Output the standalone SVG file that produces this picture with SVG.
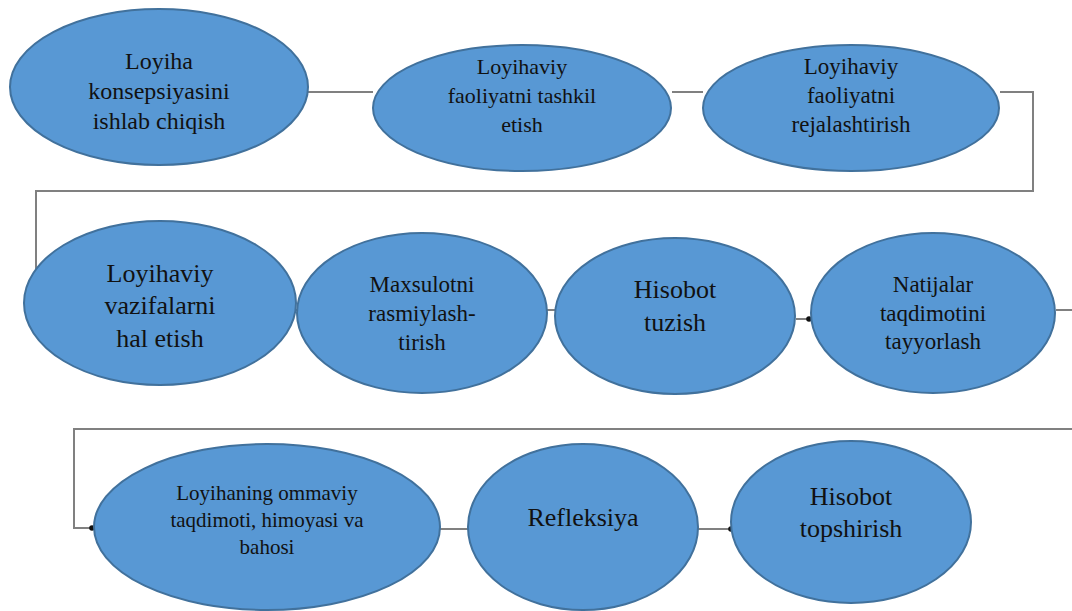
<svg xmlns="http://www.w3.org/2000/svg" width="1072" height="611" viewBox="0 0 1072 611">
<style>
.n{fill:#5898d4;stroke:#41719c;stroke-width:2}
.c{fill:none;stroke:#808080;stroke-width:2}
.t{fill:#111;text-anchor:middle}
</style>
<defs>
<marker id="dot" markerWidth="6" markerHeight="6" refX="3" refY="3" markerUnits="userSpaceOnUse"><circle cx="3" cy="3" r="2.8" fill="#111"/></marker>
</defs>
<rect width="1072" height="611" fill="#ffffff"/>
<g id="connectors">
<path class="c" d="M308 92 H373"/>
<path class="c" d="M672 92 H703"/>
<path class="c" d="M1000 92 H1033 V191 H36 V270"/>
<path class="c" d="M296 310 H297"/>
<path class="c" d="M547 310 H555"/>
<path class="c" d="M796 319 H809" marker-end="url(#dot)"/>
<path class="c" d="M1056 310 H1072"/>
<path class="c" d="M1072 429 H74 V528 H92" marker-end="url(#dot)"/>
<path class="c" d="M440 529 H468"/>
<path class="c" d="M698 529 H731" marker-end="url(#dot)"/>
</g>
<g font-family="Liberation Serif, Times New Roman, serif">
<g id="n1"><ellipse class="n" cx="159" cy="87" rx="149" ry="78"/>
<text class="t" font-size="24"><tspan x="159" y="69">Loyiha</tspan><tspan x="159" y="99">konsepsiyasini</tspan><tspan x="159" y="129">ishlab chiqish</tspan></text></g>
<g id="n2"><ellipse class="n" cx="522" cy="108" rx="149" ry="63"/>
<text class="t" font-size="22"><tspan x="522" y="74">Loyihaviy</tspan><tspan x="522" y="103">faoliyatni tashkil</tspan><tspan x="522" y="132">etish</tspan></text></g>
<g id="n3"><ellipse class="n" cx="851" cy="108" rx="148" ry="63"/>
<text class="t" font-size="23"><tspan x="851" y="74">Loyihaviy</tspan><tspan x="851" y="103">faoliyatni</tspan><tspan x="851" y="132">rejalashtirish</tspan></text></g>
<g id="n4"><ellipse class="n" cx="160" cy="303" rx="136" ry="82"/>
<text class="t" font-size="26"><tspan x="160" y="282">Loyihaviy</tspan><tspan x="160" y="314">vazifalarni</tspan><tspan x="160" y="347">hal etish</tspan></text></g>
<g id="n5"><ellipse class="n" cx="422" cy="313" rx="125" ry="80"/>
<text class="t" font-size="23"><tspan x="422" y="292">Maxsulotni</tspan><tspan x="422" y="321">rasmiylash-</tspan><tspan x="422" y="350">tirish</tspan></text></g>
<g id="n6"><ellipse class="n" cx="675" cy="316" rx="120" ry="78"/>
<text class="t" font-size="26"><tspan x="675" y="298">Hisobot</tspan><tspan x="675" y="331">tuzish</tspan></text></g>
<g id="n7"><ellipse class="n" cx="933" cy="313" rx="122" ry="80"/>
<text class="t" font-size="23"><tspan x="933" y="292">Natijalar</tspan><tspan x="933" y="321">taqdimotini</tspan><tspan x="933" y="349">tayyorlash</tspan></text></g>
<g id="n8"><ellipse class="n" cx="267" cy="527" rx="173" ry="83"/>
<text class="t" font-size="21"><tspan x="267" y="500">Loyihaning ommaviy</tspan><tspan x="267" y="527">taqdimoti, himoyasi va</tspan><tspan x="267" y="554">bahosi</tspan></text></g>
<g id="n9"><ellipse class="n" cx="583" cy="527" rx="115" ry="83"/>
<text class="t" font-size="26"><tspan x="583" y="526">Refleksiya</tspan></text></g>
<g id="n10"><ellipse class="n" cx="851" cy="522" rx="120" ry="81"/>
<text class="t" font-size="26"><tspan x="851" y="505">Hisobot</tspan><tspan x="851" y="537">topshirish</tspan></text></g>
</g>
</svg>
